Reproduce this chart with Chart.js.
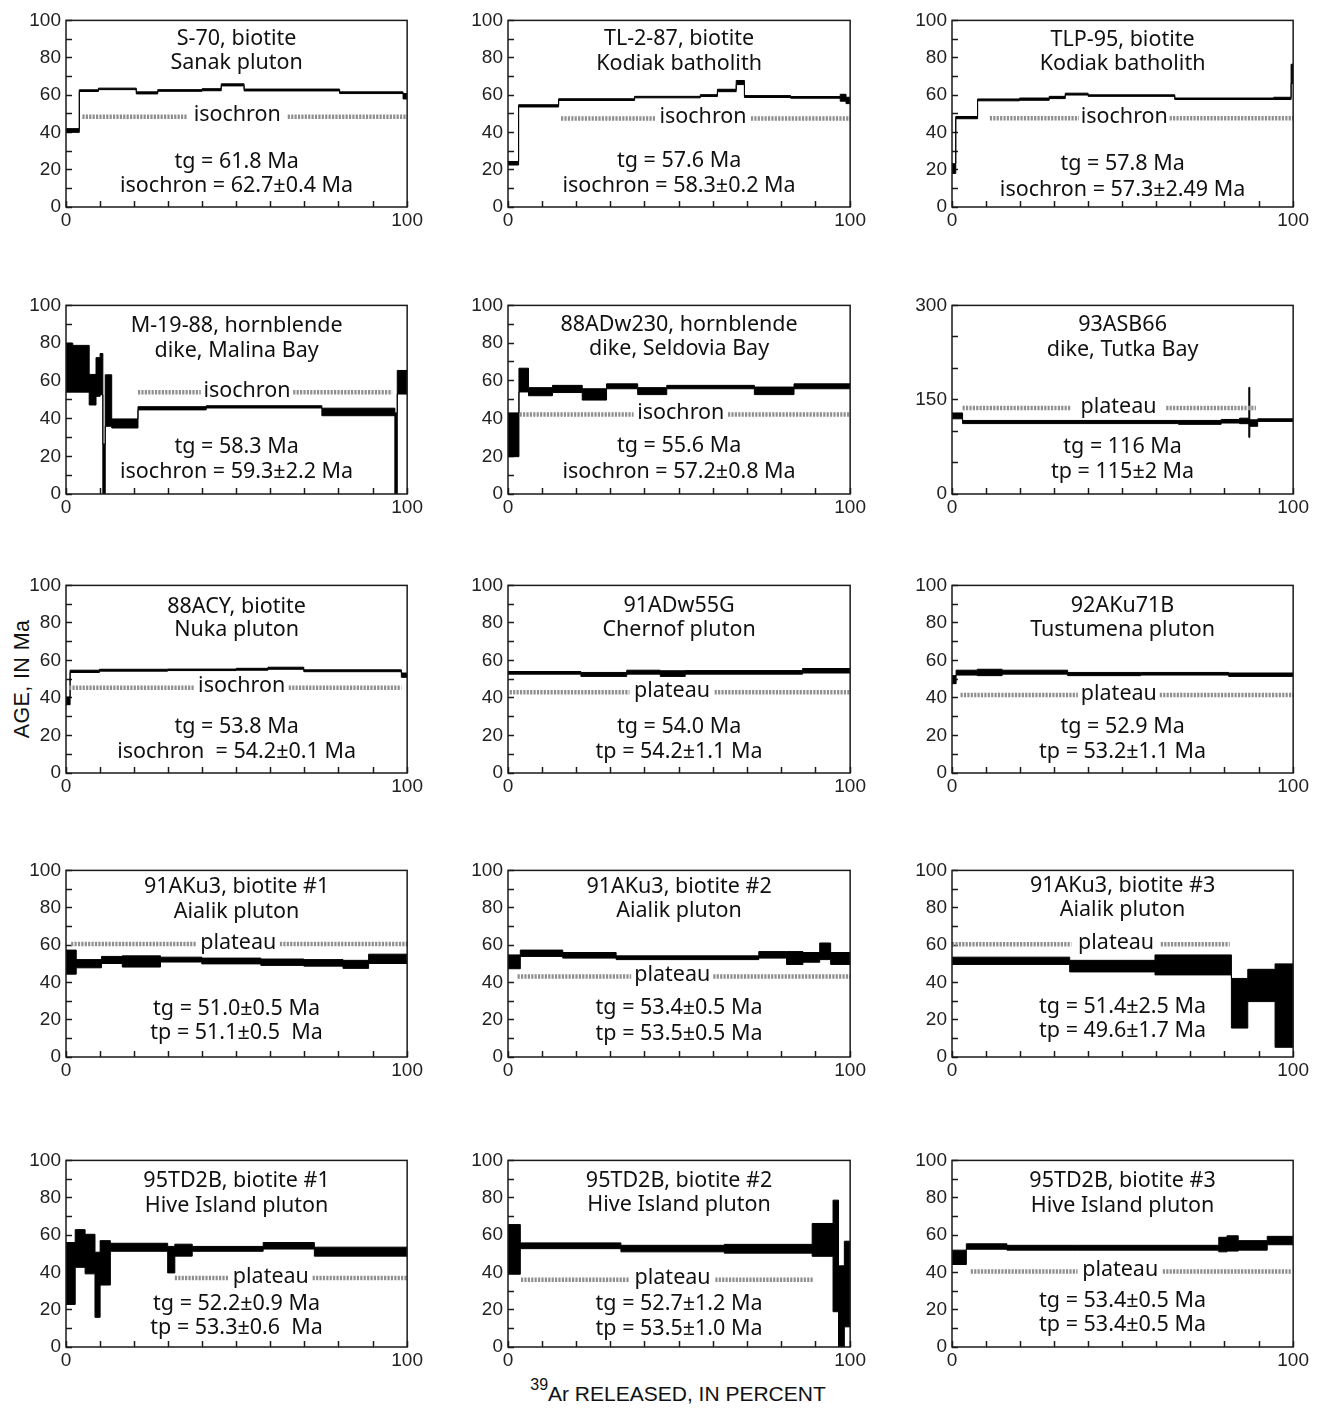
<!DOCTYPE html>
<html>
<head>
<meta charset="utf-8">
<title>40Ar/39Ar age spectra</title>
<script src="https://cdn.jsdelivr.net/npm/chart.js@4.4.1/dist/chart.umd.min.js"></script>
<style>
  html, body { margin: 0; padding: 0; background: #fff; }
  #figure { position: relative; width: 1320px; height: 1410px; overflow: hidden; }
  #figure canvas { position: absolute; }
  .axis-title {
    position: absolute;
    font-family: "Liberation Sans", Arial, sans-serif;
    color: #111;
    white-space: nowrap;
    transform: translate(-50%, -50%);
  }
  .axis-title sup { font-size: 16px; position: relative; top: -3px; vertical-align: super; line-height: 0; }
  #ageTitle { left: 22px; top: 679px; font-size: 21.5px; letter-spacing: 0.4px; transform: translate(-50%, -50%) rotate(-90deg); }
  #releaseTitle { left: 678px; top: 1394px; font-size: 21px; }
</style>
</head>
<body>
<div id="figure">
  <div id="ageTitle" class="axis-title">AGE, IN Ma</div>
  <div id="releaseTitle" class="axis-title"><sup>39</sup>Ar RELEASED, IN PERCENT</div>
</div>
<script>
// ---- sample labels -------------------------------------------------------
const sampleNames = ['S-70, biotite', 'TL-2-87, biotite', 'TLP-95, biotite',
  'M-19-88, hornblende', '88ADw230, hornblende', '93ASB66',
  '88ACY, biotite', '91ADw55G', '92AKu71B',
  '91AKu3, biotite #1', '91AKu3, biotite #2', '91AKu3, biotite #3',
  '95TD2B, biotite #1', '95TD2B, biotite #2', '95TD2B, biotite #3'];
const sampleUnits = ['Sanak pluton', 'Kodiak batholith', 'Kodiak batholith',
  'dike, Malina Bay', 'dike, Seldovia Bay', 'dike, Tutka Bay',
  'Nuka pluton', 'Chernof pluton', 'Tustumena pluton',
  'Aialik pluton', 'Aialik pluton', 'Aialik pluton',
  'Hive Island pluton', 'Hive Island pluton', 'Hive Island pluton'];
const totalGasAges = ['tg = 61.8 Ma', 'tg = 57.6 Ma', 'tg = 57.8 Ma',
  'tg = 58.3 Ma', 'tg = 55.6 Ma', 'tg = 116 Ma',
  'tg = 53.8 Ma', 'tg = 54.0 Ma', 'tg = 52.9 Ma',
  'tg = 51.0\u00b10.5 Ma', 'tg = 53.4\u00b10.5 Ma', 'tg = 51.4\u00b12.5 Ma',
  'tg = 52.2\u00b10.9 Ma', 'tg = 52.7\u00b11.2 Ma', 'tg = 53.4\u00b10.5 Ma'];
const preferredAges = ['isochron = 62.7\u00b10.4 Ma', 'isochron = 58.3\u00b10.2 Ma', 'isochron = 57.3\u00b12.49 Ma',
  'isochron = 59.3\u00b12.2 Ma', 'isochron = 57.2\u00b10.8 Ma', 'tp = 115\u00b12 Ma',
  'isochron  = 54.2\u00b10.1 Ma', 'tp = 54.2\u00b11.1 Ma', 'tp = 53.2\u00b11.1 Ma',
  'tp = 51.1\u00b10.5  Ma', 'tp = 53.5\u00b10.5 Ma', 'tp = 49.6\u00b11.7 Ma',
  'tp = 53.3\u00b10.6  Ma', 'tp = 53.5\u00b11.0 Ma', 'tp = 53.4\u00b10.5 Ma'];
const preferredKinds = ['isochron', 'isochron', 'isochron', 'isochron', 'isochron', 'plateau',
  'isochron', 'plateau', 'plateau', 'plateau', 'plateau', 'plateau', 'plateau', 'plateau', 'plateau'];
// cumulative 39Ar (%) covered by the steps that define the isochron / plateau
const preferredSpans = [[4.8, 100], [15.5, 100], [11.1, 100], [21.1, 95.6], [3.4, 100], [3.1, 89.1],
  [0.9, 98.3], [0.5, 100], [2.5, 100], [1.5, 100], [2.8, 100], [0, 81.4],
  [31.9, 100], [3.8, 89.4], [5.5, 99.3]];

// ---- age axes (Ma) -------------------------------------------------------
const ageMaxima    = [100, 100, 100, 100, 100, 300, 100, 100, 100, 100, 100, 100, 100, 100, 100];
const ageTickSteps = [10, 10, 10, 10, 10, 50, 10, 10, 10, 10, 10, 10, 10, 10, 10];
const ageLabelSteps = [20, 20, 20, 20, 20, 150, 20, 20, 20, 20, 20, 20, 20, 20, 20];
const releaseTicks = [0, 10, 20, 30, 40, 50, 60, 70, 80, 90, 100];
const releaseLabels = [0, 100];

// ---- heating steps: [from %, to %, age minus 2 sigma, age plus 2 sigma] ----
const stepsS70 = [[0, 3.9, 40, 42], [3.9, 9.5, 61.9, 62.8], [9.5, 20.6, 62.9, 63.7], [20.6, 26.9, 60.6, 61.7],
  [26.9, 39.9, 62.0, 62.9], [39.9, 45.5, 62.3, 63.4], [45.5, 52.2, 64.9, 66.0], [52.2, 80.2, 62.2, 63.2],
  [80.2, 98.8, 60.8, 61.7], [98.8, 100, 57.9, 60.8]];
const stepsTL287 = [[0, 3.1, 22.5, 24.4], [3.1, 14.8, 53.6, 54.8], [14.8, 37.0, 57.1, 58.0], [37.0, 56.2, 58.5, 59.3],
  [56.2, 61.2, 59.2, 60.2], [61.2, 66.7, 61.8, 63.1], [66.7, 69.1, 65.6, 67.8], [69.1, 82.6, 58.7, 59.7],
  [82.6, 97.1, 58.3, 59.2], [97.1, 98.8, 56.7, 60.4], [98.8, 100, 55.4, 58.8]];
const stepsTLP95 = [[0, 1.1, 18.0, 23.2], [1.1, 7.5, 47.3, 48.5], [7.5, 19.8, 56.9, 57.9], [19.8, 28.5, 57.2, 58.4],
  [28.5, 33.2, 58.1, 59.3], [33.2, 39.9, 60.0, 61.0], [39.9, 65.3, 59.3, 60.1], [65.3, 94.3, 57.6, 58.4],
  [94.3, 99.4, 57.6, 58.8], [99.4, 100, 66.2, 76.5]];
const stepsM1988 = [[0, 2.0, 54, 80], [2.0, 6.8, 54, 78.8], [6.8, 8.8, 47.2, 63.4], [8.8, 10.0, 51.8, 72.3],
  [10.0, 10.8, 52.6, 74.5], [10.8, 11.5, 0, 26.5], [11.5, 13.4, 35.9, 63.2], [13.4, 21.1, 35.0, 39.8],
  [21.1, 41.1, 44.6, 46.3], [41.1, 75.0, 45.6, 46.8], [75.0, 96.4, 41.5, 45.5], [96.4, 97.1, 0, 43],
  [97.1, 100, 53.0, 65.5]];
const stepsADw230 = [[0, 3.2, 19.8, 43.0], [3.2, 6.0, 54.1, 66.7], [6.0, 13.0, 52.1, 56.4], [13.0, 21.7, 53.8, 57.6],
  [21.7, 28.8, 49.8, 55.8], [28.8, 37.9, 55.8, 58.4], [37.9, 46.4, 52.7, 56.4], [46.4, 72.0, 55.8, 57.6],
  [72.0, 83.6, 52.7, 56.7], [83.6, 100, 55.8, 58.4]];
const stepsASB66 = [[0, 3.1, 119.6, 128.9], [3.1, 66.4, 112, 117], [66.4, 78.9, 110.8, 117], [78.9, 84.3, 112.9, 118.6],
  [84.3, 87.0, 111.9, 120.6], [87.0, 87.3, 90.2, 169.6], [87.3, 89.6, 107.7, 118.0], [89.6, 100, 115.5, 119.6]];
const stepsACY = [[0, 1.2, 36.4, 40.5], [1.2, 9.8, 53.6, 54.8], [9.8, 29.8, 54.3, 55.3], [29.8, 49.9, 54.6, 55.4],
  [49.9, 59.2, 54.8, 55.8], [59.2, 69.7, 55.3, 56.4], [69.7, 98.3, 54.0, 55.0], [98.3, 100, 51.0, 53.3]];
const stepsADw55G = [[0, 21.3, 52.7, 54.1], [21.3, 34.7, 51.5, 53.6], [34.7, 44.5, 52.7, 54.8], [44.5, 51.8, 51.5, 54.5],
  [51.8, 86.1, 52.7, 54.6], [86.1, 100, 53.3, 55.7]];
const stepsAKu71B = [[0, 1.2, 47.6, 51.9], [1.2, 7.4, 52.2, 54.8], [7.4, 14.7, 51.9, 55.3], [14.7, 33.9, 52.7, 54.8],
  [33.9, 55.3, 51.9, 53.6], [55.3, 81.1, 52.2, 53.6], [81.1, 100, 51.5, 53.3]];
const stepsAKu3a = [[0, 3.0, 44.4, 57.3], [3.0, 10.4, 47.8, 52.2], [10.4, 16.5, 50.1, 53.9], [16.5, 27.7, 48.2, 54.2],
  [27.7, 39.8, 50.9, 53.5], [39.8, 57.1, 49.9, 53.0], [57.1, 69.7, 49.1, 52.5], [69.7, 81.2, 48.7, 52.2],
  [81.2, 88.7, 47.5, 51.8], [88.7, 100, 50.1, 55.1]];
const stepsAKu3b = [[0, 3.6, 47.3, 54.7], [3.6, 16.0, 53.9, 57.3], [16.0, 31.6, 53.0, 56.0], [31.6, 53.8, 52.2, 54.2],
  [53.8, 73.3, 52.2, 54.2], [73.3, 81.4, 53.0, 56.5], [81.4, 86.2, 49.6, 56.5], [86.2, 91.1, 50.8, 56.0],
  [91.1, 94.3, 52.2, 61.1], [94.3, 100, 49.6, 56.0]];
const stepsAKu3c = [[0, 34.5, 49.6, 53.5], [34.5, 59.5, 45.6, 51.8], [59.5, 81.9, 44.0, 54.7], [81.9, 86.7, 15.5, 42.1],
  [86.7, 94.7, 29.7, 47.0], [94.7, 100, 5.2, 49.9]];
const stepsTD2B1 = [[0, 2.7, 22.8, 56.0], [2.7, 5.6, 42.7, 62.9], [5.6, 8.5, 39.2, 60.4], [8.5, 10.0, 15.9, 50.8],
  [10.0, 13.0, 33.2, 57.0], [13.0, 29.8, 51.3, 55.6], [29.8, 31.9, 39.7, 53.9], [31.9, 37.0, 48.7, 55.1],
  [37.0, 57.8, 51.3, 53.9], [57.8, 72.8, 52.5, 56.0], [72.8, 100, 48.7, 53.5]];
const stepsTD2B2 = [[0, 3.6, 39.0, 65.6], [3.6, 33.0, 52.7, 55.8], [33.0, 63.2, 51.0, 54.5], [63.2, 88.9, 50.3, 55.0],
  [88.9, 95.0, 48.6, 66.2], [95.0, 96.6, 18.9, 78.7], [96.6, 98.3, 0, 43.5], [98.3, 100, 10.8, 56.7]];
const stepsTD2B3 = [[0, 4.2, 44.2, 51.9], [4.2, 16.1, 52.4, 55.3], [16.1, 36.8, 51.9, 54.5], [36.8, 78.2, 51.9, 54.5],
  [78.2, 80.6, 51.0, 58.8], [80.6, 83.9, 51.4, 59.6], [83.9, 92.4, 51.9, 57.0], [92.4, 100, 54.8, 59.3]];

const panelSteps = [stepsS70, stepsTL287, stepsTLP95, stepsM1988, stepsADw230, stepsASB66,
  stepsACY, stepsADw55G, stepsAKu71B, stepsAKu3a, stepsAKu3b, stepsAKu3c,
  stepsTD2B1, stepsTD2B2, stepsTD2B3];

// ---- page layout ---------------------------------------------------------
const colLefts = [66, 508, 952];
const colRights = [411, 854, 1297];
const rowTops = [14, 299, 579, 864, 1154];
const rowBottoms = [207, 494, 773, 1057, 1347];
// height of the gray marker line (axis units) and the gap (%) left for its word
const markerLevels = [48.4, 47.4, 47.6, 54.0, 42.1, 136.6, 45.4, 43.0, 41.6, 60.6, 43.2, 60.4, 37.0, 36.1, 40.4];
const markerGaps = [[35.4, 65], [43, 71], [37.2, 63.8], [39.5, 66.6], [36.7, 64.3], [34.8, 62.8],
  [37.7, 65.3], [35.5, 60.4], [36.9, 60.9], [38.3, 62.7], [36.0, 60.0], [35, 61.2],
  [47.8, 72.3], [35.6, 60.6], [36.8, 61.8]];
// centre of each of the four text lines, in px below the top of the frame
const textOffsets = [[18, 42.5, 141, 165], [18.5, 43, 140.5, 165.5], [19.5, 43.5, 143, 169],
  [20.5, 45, 141, 166], [19.5, 43.5, 140.5, 166.5], [19.5, 44, 141, 166],
  [21, 44.5, 141.5, 166], [20, 44, 141.5, 166], [20.5, 44, 141.5, 166.5],
  [16, 41, 138, 162], [16, 40.5, 137.5, 163], [15, 39.5, 136.5, 160.5],
  [20.5, 45, 143, 167], [20.5, 44, 143, 168], [20.5, 45, 140, 164]];
const markerWordLift = 1.5;

const PAD = { left: 10, top: 16, right: 20, bottom: 5 };
const Y_AXIS_W = 50;
const X_AXIS_H = 25;
const INK = '#1a1a1a';
const TICK_FONT = { family: '"Liberation Sans", Arial, sans-serif', size: 19 };
const NOTE_FONT = '21.5px "Noto Sans", "Liberation Sans", Arial, sans-serif';

// upper or lower edge of the step boxes as a stepped line
function stepEdge(steps, col) {
  const pts = steps.map(s => ({ x: s[0], y: s[col] }));
  const last = steps[steps.length - 1];
  pts.push({ x: last[1], y: last[col] });
  return pts;
}

// frame of the plot plus the sample notes
const panelNotes = {
  id: 'panelNotes',
  afterDatasetsDraw(chart, args, opts) {
    const { ctx, chartArea: a, scales } = chart;
    ctx.save();
    ctx.strokeStyle = INK;
    ctx.lineWidth = 1.5;
    ctx.strokeRect(a.left, a.top, a.right - a.left, a.bottom - a.top);
    ctx.fillStyle = '#111';
    ctx.font = NOTE_FONT;
    ctx.textAlign = 'center';
    ctx.textBaseline = 'middle';
    const cx = (a.left + a.right) / 2;
    opts.lines.forEach((t, k) => ctx.fillText(t, cx, a.top + opts.offsets[k]));
    ctx.fillText(opts.kind, scales.x.getPixelForValue(opts.kindAt), scales.y.getPixelForValue(opts.level) - markerWordLift);
    ctx.restore();
  }
};

const figure = document.getElementById('figure');

panelSteps.forEach((steps, i) => {
  const r = Math.floor(i / 3), c = i % 3;
  const L = colLefts[c], R = colRights[c], T = rowTops[r], B = rowBottoms[r];
  const canvas = document.createElement('canvas');
  const w = R - L + PAD.left + Y_AXIS_W + PAD.right;
  const hgt = B - T + PAD.top + X_AXIS_H + PAD.bottom;
  canvas.width = w; canvas.height = hgt;
  canvas.style.left = (L - PAD.left - Y_AXIS_W) + 'px';
  canvas.style.top = (T - PAD.top) + 'px';
  canvas.style.width = w + 'px'; canvas.style.height = hgt + 'px';
  figure.appendChild(canvas);

  const [s0, s1] = preferredSpans[i];
  const [g0, g1] = markerGaps[i];
  const lvl = markerLevels[i];

  new Chart(canvas, {
    type: 'line',
    data: {
      datasets: [
        {
          label: preferredKinds[i],
          data: [{ x: s0, y: lvl }, { x: g0, y: lvl }, { x: (g0 + g1) / 2, y: null }, { x: g1, y: lvl }, { x: s1, y: lvl }],
          borderColor: '#8f8f8f', borderWidth: 4.5, borderDash: [2.2, 1.2], borderCapStyle: 'butt',
          pointRadius: 0, fill: false, spanGaps: false
        },
        {
          label: 'age + 2\u03c3',
          data: stepEdge(steps, 3), stepped: true,
          borderColor: '#000', borderWidth: 1, pointRadius: 0, fill: false
        },
        {
          label: 'age \u2212 2\u03c3',
          data: stepEdge(steps, 2), stepped: true,
          borderColor: '#000', borderWidth: 1, pointRadius: 0,
          fill: '-1', backgroundColor: '#000'
        }
      ]
    },
    options: {
      responsive: false,
      animation: false,
      devicePixelRatio: 1,
      events: [],
      layout: { padding: PAD },
      plugins: {
        legend: { display: false },
        tooltip: { enabled: false },
        panelNotes: {
          lines: [sampleNames[i], sampleUnits[i], totalGasAges[i], preferredAges[i]],
          offsets: textOffsets[i],
          kind: preferredKinds[i],
          kindAt: (g0 + g1) / 2,
          level: lvl
        }
      },
      scales: {
        x: {
          type: 'linear', min: 0, max: 100,
          afterBuildTicks: s => { s.ticks = releaseTicks.map(v => ({ value: v })); },
          afterFit: s => { s.height = X_AXIS_H; },
          border: { display: false },
          grid: { drawOnChartArea: false, drawTicks: true, tickLength: -6, tickColor: INK, tickWidth: 1.5 },
          ticks: {
            autoSkip: false, maxRotation: 0, padding: 8, color: '#222', font: TICK_FONT,
            callback: v => releaseLabels.includes(v) ? String(v) : ''
          }
        },
        y: {
          type: 'linear', min: 0, max: ageMaxima[i],
          afterBuildTicks: s => {
            const t = [];
            for (let v = 0; v <= ageMaxima[i]; v += ageTickSteps[i]) t.push({ value: v });
            s.ticks = t;
          },
          afterFit: s => { s.width = Y_AXIS_W; },
          border: { display: false },
          grid: { drawOnChartArea: false, drawTicks: true, tickLength: -6, tickColor: INK, tickWidth: 1.5 },
          ticks: {
            autoSkip: false, padding: 11, color: '#222', font: TICK_FONT,
            callback: v => v % ageLabelSteps[i] === 0 ? String(v) : ''
          }
        }
      }
    },
    plugins: [panelNotes]
  });
});
</script>
</body>
</html>
